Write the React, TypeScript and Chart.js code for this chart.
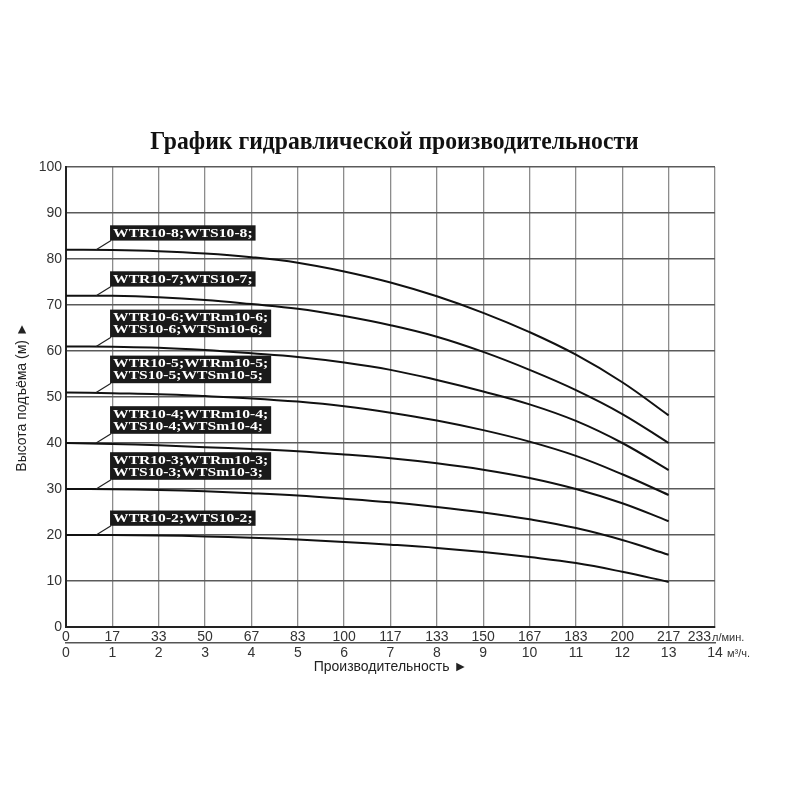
import React, { useEffect, useRef } from 'react';
import { Chart, registerables } from 'chart.js';

Chart.register(...registerables);

// ---- data ----
const flowTicksM3h = ['0', '1', '2', '3', '4', '5', '6', '7', '8', '9', '10', '11', '12', '13', '14'];
const flowTicksLpm = ['0', '17', '33', '50', '67', '83', '100', '117', '133', '150', '167', '183', '200', '217', '233'];
const curveFlow = [0, 1, 2, 3, 4, 5, 6, 7, 8, 9, 10, 11, 12, 13];

const head8 = [82, 81.95, 81.7, 81.2, 80.4, 79.2, 77.3, 74.9, 71.9, 68.3, 64.1, 59.2, 53.2, 46];
const head7 = [72, 72, 71.7, 71.1, 70.2, 69.2, 67.6, 65.6, 63.1, 59.8, 55.9, 51.5, 46.3, 40];
const head6 = [61, 60.9, 60.7, 60.2, 59.5, 58.7, 57.5, 55.9, 53.7, 51.2, 48.4, 44.8, 40, 34.1];
const head5 = [51, 50.8, 50.6, 50.2, 49.7, 49, 48, 46.6, 44.9, 42.8, 40.3, 37.2, 33.2, 28.7];
const head4 = [40, 39.8, 39.5, 39.1, 38.7, 38.2, 37.5, 36.7, 35.6, 34.2, 32.4, 30.0, 26.9, 23];
const head3 = [30, 29.95, 29.8, 29.5, 29.1, 28.6, 27.9, 27.1, 26.1, 24.9, 23.4, 21.5, 18.9, 15.7];
const head2 = [20, 20, 19.9, 19.7, 19.4, 19.0, 18.5, 17.9, 17.2, 16.3, 15.2, 13.9, 12.0, 9.8];

const seriesHeads = [head8, head7, head6, head5, head4, head3, head2];
const seriesLabels = [
  ['WTR10-8;WTS10-8;'],
  ['WTR10-7;WTS10-7;'],
  ['WTR10-6;WTRm10-6;', 'WTS10-6;WTSm10-6;'],
  ['WTR10-5;WTRm10-5;', 'WTS10-5;WTSm10-5;'],
  ['WTR10-4;WTRm10-4;', 'WTS10-4;WTSm10-4;'],
  ['WTR10-3;WTRm10-3;', 'WTS10-3;WTSm10-3;'],
  ['WTR10-2;WTS10-2;'],
];

const chartTitle = 'График гидравлической производительности';
const yTitle = 'Высота подъёма (м) ►';
const xTitle = 'Производительность ►';
const unitLpm = 'л/мин.';
const unitM3h = 'м³/ч.';

const SANS = "'Liberation Sans', Arial, 'DejaVu Sans', sans-serif";
const SERIF = "'Liberation Serif', 'Times New Roman', serif";

const labelPlugin = {
  id: 'pumpLabels',
  afterDatasetsDraw(chart: any) {
    const ctx = chart.ctx;
    const xs = chart.scales.x;
    const ys = chart.scales.y;
    const stretch = 1.2;
    ctx.save();
    ctx.font = `bold 13px ${SERIF}`;
    seriesHeads.forEach((arr, i) => {
      const lines = seriesLabels[i];
      const y0 = arr[0];
      const boxLeft = xs.getPixelForValue(0.95);
      const boxBottom = ys.getPixelForValue(y0 + 2);
      const lineH = 12.3;
      const boxH = lines.length * lineH + 3;
      let w = 0;
      lines.forEach((l) => { w = Math.max(w, ctx.measureText(l).width * stretch); });
      const boxW = w + 6;
      // leader line
      ctx.strokeStyle = '#222';
      ctx.lineWidth = 1.2;
      ctx.beginPath();
      ctx.moveTo(boxLeft + 1, boxBottom);
      ctx.lineTo(xs.getPixelForValue(0.65), ys.getPixelForValue(y0));
      ctx.stroke();
      // box
      ctx.fillStyle = '#1a1a1a';
      ctx.fillRect(boxLeft, boxBottom - boxH, boxW, boxH);
      ctx.fillStyle = '#ffffff';
      ctx.textBaseline = 'middle';
      ctx.textAlign = 'left';
      lines.forEach((l, k) => {
        ctx.save();
        ctx.translate(boxLeft + 3, boxBottom - boxH + 1.5 + lineH * (k + 0.5) + 0.5);
        ctx.scale(stretch, 1);
        ctx.fillText(l, 0, 0);
        ctx.restore();
      });
    });
    ctx.restore();
  },
  afterDraw(chart: any) {
    const ctx = chart.ctx;
    const xs = chart.scales.x;
    const x2 = chart.scales.x2;
    const area = chart.chartArea;
    const xEnd = xs.getPixelForValue(14);
    ctx.save();
    // main title (condensed bold serif)
    ctx.fillStyle = '#111';
    ctx.font = `bold 26px ${SERIF}`;
    ctx.textAlign = 'center';
    ctx.textBaseline = 'middle';
    ctx.save();
    ctx.translate((area.left + area.right) / 2 + 4, area.top - 25);
    ctx.scale(0.91, 1);
    ctx.fillText(chartTitle, 0, 0);
    ctx.restore();

    ctx.fillStyle = '#333';
    ctx.textBaseline = 'middle';
    const yRow1 = xs.top + 10;
    ctx.font = `14px ${SANS}`;
    ctx.textAlign = 'right';
    ctx.fillText(flowTicksLpm[flowTicksLpm.length - 1], xEnd - 4, yRow1);
    ctx.textAlign = 'left';
    ctx.font = `11px ${SANS}`;
    ctx.fillText(unitLpm, xEnd - 3, yRow1 + 1);
    const yRow2 = x2.top + 10;
    ctx.fillText(unitM3h, xEnd + 12, yRow2 + 1);
    ctx.restore();
  },
};

export default function App() {
  const ref = useRef<HTMLCanvasElement | null>(null);

  useEffect(() => {
    if (!ref.current) return;
    const datasets = seriesHeads.map((arr, i) => ({
      label: seriesLabels[i].join(' '),
      data: curveFlow.map((q, k) => ({ x: q, y: arr[k] })),
      borderColor: '#111',
      borderWidth: 2,
      pointRadius: 0,
      fill: false,
      tension: 0.4,
      xAxisID: 'x',
      yAxisID: 'y',
    }));

    const chart = new Chart(ref.current, {
      type: 'line',
      data: { datasets },
      options: {
        animation: false,
        responsive: false,
        maintainAspectRatio: false,
        layout: { padding: { top: 167, right: 85, bottom: 117, left: 0 } },
        plugins: {
          legend: { display: false },
          tooltip: { enabled: false },
          title: { display: false },
        },
        scales: {
          x: {
            type: 'linear',
            position: 'bottom',
            min: 0,
            max: 14,
            ticks: {
              stepSize: 1,
              autoSkip: false,
              maxRotation: 0,
              padding: 2,
              color: '#333',
              font: { family: SANS, size: 14 },
              callback: (_v: any, i: number) => (i < flowTicksLpm.length - 1 ? flowTicksLpm[i] : ''),
            },
            grid: { color: '#8c8c8c', lineWidth: 1.3, drawTicks: false },
            border: { color: '#222', width: 2 },
            afterFit: (s: any) => { s.height = 16; },
          },
          x2: {
            type: 'linear',
            position: 'bottom',
            min: 0,
            max: 14,
            ticks: {
              stepSize: 1,
              autoSkip: false,
              maxRotation: 0,
              padding: 2,
              color: '#333',
              font: { family: SANS, size: 14 },
              callback: (_v: any, i: number) => flowTicksM3h[i],
            },
            grid: { display: false, drawTicks: false },
            border: { display: true, color: '#555', width: 1.5 },
            title: {
              display: true,
              text: xTitle,
              color: '#222',
              font: { family: SANS, size: 14 },
              padding: { top: 0, bottom: 7 },
            },
            afterFit: (s: any) => { s.height = 40; },
          },
          y: {
            type: 'linear',
            position: 'left',
            min: 0,
            max: 100,
            ticks: {
              stepSize: 10,
              padding: 4,
              color: '#333',
              font: { family: SANS, size: 14 },
            },
            grid: { color: '#5a5a5a', lineWidth: 1.6, drawTicks: false },
            border: { color: '#222', width: 2 },
            title: {
              display: true,
              text: yTitle,
              color: '#222',
              font: { family: SANS, size: 14 },
              padding: { top: 14, bottom: 0 },
            },
            afterFit: (s: any) => { s.width = 66; },
          },
        },
      },
      plugins: [labelPlugin],
    } as any);

    return () => chart.destroy();
  }, []);

  return (
    <div style={{ position: 'fixed', left: 0, top: 0, width: 800, height: 800, background: '#fff' }}>
      <canvas ref={ref} width={800} height={800} style={{ width: 800, height: 800, display: 'block' }} />
    </div>
  );
}
